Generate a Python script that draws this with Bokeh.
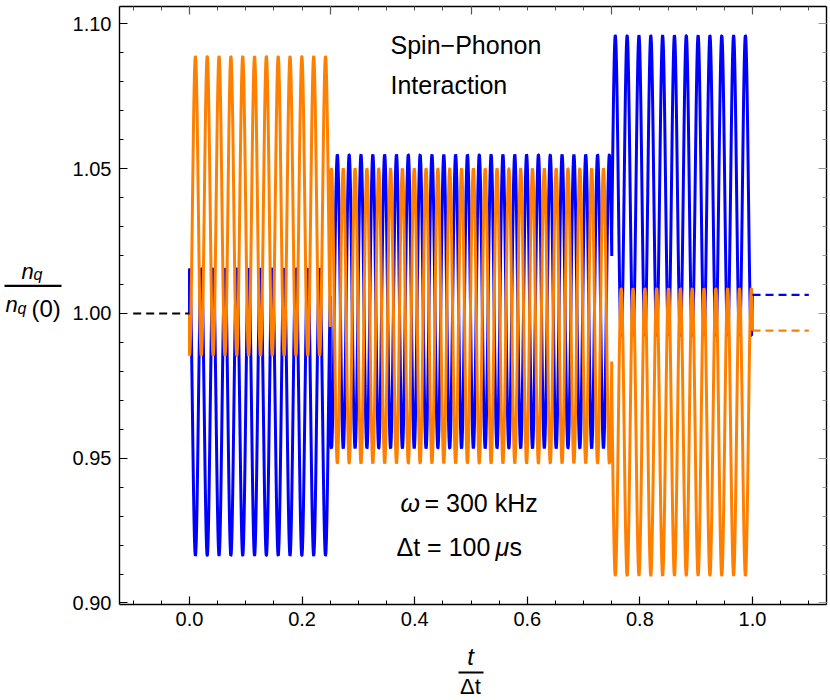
import numpy as np
from bokeh.plotting import figure
from bokeh.layouts import row, column
from bokeh.models import (LinearAxis, FixedTicker, Label, Range1d,
                          CustomJSTickFormatter, NumeralTickFormatter)
from bokeh.core.properties import value
from bokeh.embed import file_html
from bokeh.resources import INLINE

# ---------------- data ----------------
seg_edges = [0.0, 0.25, 0.75, 1.0]
cycles_per_unit = 47.6
blue_min = [0.9164, 0.9534, 0.9924]
blue_max = [1.0155, 1.0549, 1.0960]
blue_starts_high = [1, 0, 1]
orange_min = [0.9855, 0.9482, 0.9095]
orange_max = [1.0888, 1.0501, 1.0086]
orange_starts_high = [0, 1, 0]
level_before = 1.0
blue_after = 1.0064
orange_after = 0.9941
before_t = [-0.1, 0.0]
after_t = [1.0, 1.1]

y_major = [0.90, 0.95, 1.00, 1.05, 1.10]
y_minor = [round(0.90 + 0.01 * i, 2) for i in range(21)]
x_major = [0.0, 0.2, 0.4, 0.6, 0.8, 1.0]
x_minor = [round(-0.10 + 0.05 * i, 2) for i in range(25)]
top_major = [0.0, 0.25, 0.5, 0.75, 1.0]

X_MIN, X_MAX = -0.1243, 1.1314
Y_MIN, Y_MAX = 0.89948, 1.10604

BLUE = "#0000FF"
ORANGE = "#FF8000"
FONT = "Liberation Sans"


def build(mins, maxs, highs, start_level, end_level):
    ts = [seg_edges[0]]
    ys = [start_level]
    for i in range(len(mins)):
        t = np.linspace(seg_edges[i], seg_edges[i + 1], 1600)
        c = (mins[i] + maxs[i]) / 2
        a = (maxs[i] - mins[i]) / 2
        s = 1 if highs[i] else -1
        ys.extend(list(c + s * a * np.cos(2 * np.pi * cycles_per_unit * t)))
        ts.extend(list(t))
    ts.append(seg_edges[-1])
    ys.append(end_level)
    return ts, ys


# ---------------- main plot ----------------
LEFT_W = 66
MAIN_H = 640
p = figure(width=830 - LEFT_W, height=MAIN_H,
           x_range=Range1d(X_MIN, X_MAX), y_range=Range1d(Y_MIN, Y_MAX),
           output_backend="svg", toolbar_location=None,
           min_border_left=119 - LEFT_W, min_border_right=4, min_border_top=6,
           min_border_bottom=MAIN_H - 604,
           x_axis_location=None, y_axis_location=None)
p.xgrid.visible = False
p.ygrid.visible = False
p.outline_line_color = None

empty = CustomJSTickFormatter(code="return ''")


def style(ax, major, minor, color, labels=True):
    ax.ticker = FixedTicker(ticks=major, minor_ticks=minor)
    ax.axis_line_color = "black"
    ax.axis_line_width = 1.4
    ax.major_tick_line_color = color
    ax.minor_tick_line_color = color
    ax.major_tick_line_width = 1.2
    ax.minor_tick_line_width = 1.0
    ax.major_tick_in = 8
    ax.major_tick_out = 0
    ax.minor_tick_in = 4
    ax.minor_tick_out = 0
    if labels:
        ax.major_label_text_font = FONT
        ax.major_label_text_font_size = "20px"
        ax.major_label_text_color = "black"
    else:
        ax.formatter = empty
        ax.major_label_standoff = 0
        ax.major_label_text_font_size = "1px"


left = LinearAxis(formatter=NumeralTickFormatter(format="0.00"))
style(left, y_major, y_minor, "black")
left.major_label_standoff = 8
p.add_layout(left, "left")

bottom = LinearAxis(formatter=NumeralTickFormatter(format="0.0"))
style(bottom, x_major, x_minor, "black")
bottom.major_label_standoff = 7
p.add_layout(bottom, "below")

top = LinearAxis()
style(top, top_major, x_minor, "#555555", labels=False)
p.add_layout(top, "above")

right = LinearAxis()
style(right, y_major, y_minor, "#999999", labels=False)
p.add_layout(right, "right")

bt, by = build(blue_min, blue_max, blue_starts_high, level_before, blue_after)
ot, oy = build(orange_min, orange_max, orange_starts_high, level_before, orange_after)
p.line(bt, by, line_color=BLUE, line_width=3)
p.line(ot, oy, line_color=ORANGE, line_width=3)

p.line(before_t, [level_before, level_before], line_color="black",
       line_width=2.2, line_dash="8 5")
p.line(after_t, [blue_after, blue_after], line_color=BLUE,
       line_width=2.2, line_dash="8 5")
p.line(after_t, [orange_after, orange_after], line_color=ORANGE,
       line_width=2.2, line_dash="8 5")


def px_to_x(px):
    return X_MIN + (px - 119) / 563


def py_to_y(py):
    return 1.0 + (313 - py) / 2895


def lab(text, px, py, size, align="left", style_="normal"):
    p.add_layout(Label(x=px_to_x(px), y=py_to_y(py), text=text,
                       text_font=FONT, text_font_size=size,
                       text_font_style=style_, text_align=align,
                       text_baseline="middle", text_color="black"))


lab("Spin\u2212Phonon", 390, 45, "25px")
lab("Interaction", 390, 85, "25px")
lab("\u03c9", 400, 503, "25px", style_="italic")
lab("= 300 kHz", 424, 503, "25px")
lab("\u0394t = 100", 396, 547, "25px")
lab("\u03bc", 495, 547, "25px", style_="italic")
lab("s", 509, 547, "25px")

# ---------------- y-axis label panel ----------------
yl = figure(width=LEFT_W, height=MAIN_H, x_range=Range1d(0, LEFT_W),
            y_range=Range1d(MAIN_H, 0), output_backend="svg",
            toolbar_location=None, min_border=0,
            x_axis_location=None, y_axis_location=None)
yl.outline_line_color = None
yl.xgrid.visible = False
yl.ygrid.visible = False


def txt(fig, x, y, text, size, style_="normal", align="left"):
    fig.text(x=[x], y=[y], text=[text], text_font=value(FONT),
             text_font_size=value(size), text_font_style=style_,
             text_align=align, text_baseline="middle", text_color="black")


txt(yl, 21, 283.4, "n", "22px", "italic")
txt(yl, 33, 286.5, "q", "16px", "italic")
yl.segment(x0=[4], y0=[299], x1=[61], y1=[299], line_color="black", line_width=2.2)
txt(yl, 5, 319.4, "n", "22px", "italic")
txt(yl, 17, 323.5, "q", "16px", "italic")
txt(yl, 31, 322.7, "(0)", "24px")

# ---------------- x-axis label panel ----------------
XL_H = 700 - MAIN_H
xl = figure(width=830, height=XL_H, x_range=Range1d(0, 830),
            y_range=Range1d(XL_H, 0), output_backend="svg",
            toolbar_location=None, min_border=0,
            x_axis_location=None, y_axis_location=None)
xl.outline_line_color = None
xl.xgrid.visible = False
xl.ygrid.visible = False
txt(xl, 470, 655.7 - MAIN_H, "t", "24px", "italic", "center")
xl.segment(x0=[458], y0=[672 - MAIN_H], x1=[483], y1=[672 - MAIN_H],
           line_color="black", line_width=2.2)
txt(xl, 470, 686.4 - MAIN_H, "\u0394t", "22px", "normal", "center")

layout = column(row(yl, p), xl)
open("out.html", "w").write(file_html(layout, INLINE))
